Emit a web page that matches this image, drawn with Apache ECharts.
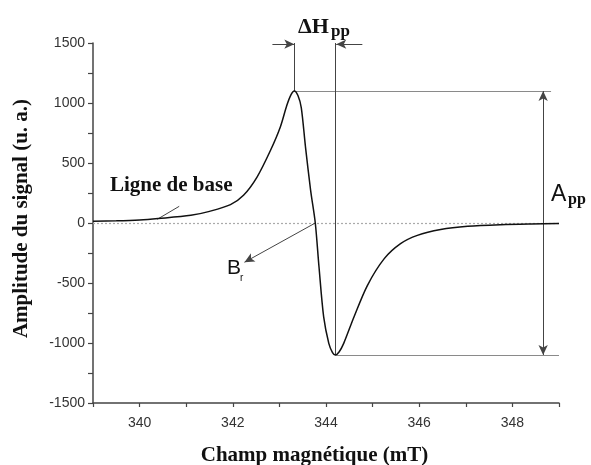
<!DOCTYPE html>
<html>
<head>
<meta charset="utf-8">
<script src="https://cdn.jsdelivr.net/npm/echarts@6/dist/echarts.min.js"></script>
<style>
  html, body { margin: 0; padding: 0; background: #fff; }
  #chart { width: 591px; height: 465px; }
</style>
</head>
<body>
<div id="chart"></div>
<script>
// champ (mT) and amplitude
var field = [339, 339.5, 340, 340.4, 341.1, 341.5, 341.95, 342.23, 342.52, 342.81, 343.02, 343.16, 343.25, 343.32, 343.4, 343.47, 343.56, 343.67, 343.77, 343.85, 343.95, 344.06, 344.14, 344.2, 344.28, 344.38, 344.6, 344.89, 345.25, 345.6, 345.96, 346.46, 347.04, 347.75, 348.4, 349]
var amplitude = [15, 18, 25, 37, 64, 97, 153, 231, 383, 606, 800, 981, 1070, 1100, 1060, 960, 633, 272, 0, -367, -783, -1003, -1080, -1100, -1075, -1003, -783, -519, -297, -172, -103, -55, -28, -14, -8, -5]

var xTickLabels = [340, 342, 344, 346, 348]
var peak = [343.32, 1100]
var trough = [344.2, -1100]
var topGuide = 1500
var arrowRow = 1490
var appX = 348.66
var baseLabelPointer = [[340.85, 139], [340.38, 31]]
var brPointer = [[343.77, 0], [342.25, -327]]

var chart = echarts.init(document.getElementById('chart'))

var serif = 'Liberation Serif'
var sans = 'Liberation Sans'
var grey = '#8a8a8a'
var dark = '#444'

function seg (a, b, style, startSym, endSym) {
  return [
    { coord: a, symbol: startSym || 'none', symbolSize: [7, 10], lineStyle: style },
    { coord: b, symbol: endSym || 'none', symbolSize: [7, 10] }
  ]
}

var guide = { color: grey, width: 1, type: 'solid' }
var thin = { color: dark, width: 1, type: 'solid' }

chart.setOption({
  animation: false,
  grid: { left: 93, right: 32, top: 43, bottom: 62, outerBoundsMode: 'none' },
  xAxis: {
    type: 'value',
    min: 339,
    max: 349,
    interval: 1,
    name: 'Champ magnétique (mT)',
    nameLocation: 'middle',
    nameGap: 42,
    nameTextStyle: { fontFamily: serif, fontWeight: 'bold', fontSize: 21, color: '#111', padding: [0, 23, 0, 0] },
    axisLine: { show: true, onZero: false, lineStyle: { color: dark, width: 1.5 } },
    axisTick: { show: true, length: 4, lineStyle: { color: dark, width: 1.2 } },
    axisLabel: {
      customValues: xTickLabels,
      margin: 13,
      fontFamily: sans,
      fontSize: 14,
      color: '#333'
    },
    splitLine: { show: false }
  },
  yAxis: {
    type: 'value',
    min: -1500,
    max: 1500,
    interval: 250,
    name: 'Amplitude du signal (u. a.)',
    nameLocation: 'middle',
    nameRotate: 90,
    nameGap: 61,
    nameTextStyle: { fontFamily: serif, fontWeight: 'bold', fontSize: 21, color: '#111', padding: [0, 0, 0, 9] },
    axisLine: { show: true, onZero: false, lineStyle: { color: dark, width: 1.5 } },
    axisTick: { show: true, length: 5, lineStyle: { color: dark, width: 1.2 } },
    axisLabel: {
      margin: 8,
      fontFamily: sans,
      fontSize: 14,
      color: '#333',
      formatter: function (v) { return v % 500 === 0 ? String(v) : '' }
    },
    splitLine: { show: false }
  },
  series: [{
    type: 'line',
    data: field.map(function (x, i) { return [x, amplitude[i]] }),
    smooth: 0.3,
    showSymbol: false,
    lineStyle: { color: '#111', width: 1.5 },
    z: 5,
    markLine: {
      silent: true,
      symbol: 'none',
      label: { show: false },
      data: [
        seg([339, 0], [349, 0], { color: '#aaa', width: 1.2, type: [2, 2] }),
        seg(peak, [348.83, peak[1]], guide),
        seg(trough, [349, trough[1]], guide),
        seg(peak, [peak[0], topGuide], thin),
        seg(trough, [trough[0], topGuide], thin),
        seg([342.85, arrowRow], [peak[0], arrowRow], thin, 'none', 'arrow'),
        seg([344.78, arrowRow], [trough[0] + 0.02, arrowRow], thin, 'none', 'arrow'),
        seg([appX, peak[1]], [appX, trough[1]], thin, 'arrow', 'arrow'),
        seg(baseLabelPointer[0], baseLabelPointer[1], thin),
        seg(brPointer[0], brPointer[1], thin, 'none', 'arrow')
      ]
    }
  }],
  graphic: [
    { type: 'text', x: 298, y: 27, style: { text: 'ΔH', font: 'bold 22px ' + serif, fill: '#111', textVerticalAlign: 'middle' } },
    { type: 'text', x: 331, y: 32, style: { text: 'pp', font: 'bold 17px ' + serif, fill: '#111', textVerticalAlign: 'middle' } },
    { type: 'text', x: 551, y: 195, style: { text: 'A', font: '23px ' + sans, fill: '#111', textVerticalAlign: 'middle' } },
    { type: 'text', x: 568, y: 200, style: { text: 'pp', font: 'bold 16px ' + serif, fill: '#111', textVerticalAlign: 'middle' } },
    { type: 'text', x: 110, y: 186, style: { text: 'Ligne de base', font: 'bold 21px ' + serif, fill: '#111', textVerticalAlign: 'middle' } },
    { type: 'text', x: 227, y: 268, style: { text: 'B', font: '21px ' + sans, fill: '#111', textVerticalAlign: 'middle' } },
    { type: 'text', x: 240, y: 278, style: { text: 'r', font: '10px ' + sans, fill: '#111', textVerticalAlign: 'middle' } }
  ]
})
</script>
</body>
</html>
